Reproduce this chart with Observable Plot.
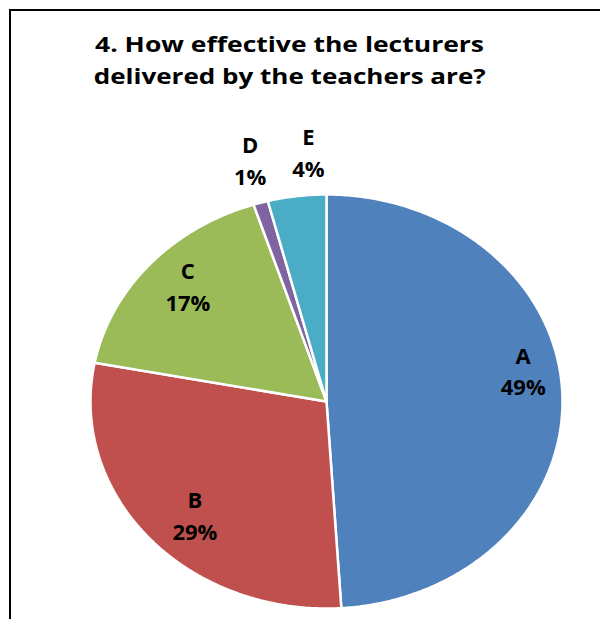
<!DOCTYPE html>
<html>
<head>
<meta charset="utf-8">
<script src="https://cdn.jsdelivr.net/npm/d3@7"></script>
<script src="https://cdn.jsdelivr.net/npm/@observablehq/plot@0.6"></script>
<style>
  html, body { margin: 0; padding: 0; background: #fff; }
  body { width: 600px; height: 619px; overflow: hidden; position: relative; }
  #frame { position: absolute; left: 9px; top: 9px; width: 620px; height: 640px;
           border-left: 2px solid #000; border-top: 2px solid #000; }
  #title { position: absolute; left: 0; top: 0; width: 580px; height: 110px; text-align: center;
           font-family: "Open Sans", Lato, sans-serif; font-weight: bold; font-size: 22px;
           line-height: 32px; padding-top: 27px; box-sizing: border-box; color: #000; white-space: nowrap; }
  #chart { position: absolute; left: 0; top: 110px; }
</style>
</head>
<body>
<div id="frame"></div>
<div id="title"><span id="t1">4. How effective the lecturers</span><br><span id="t2">delivered by the teachers are?</span></div>
<div id="chart"></div>
<script>
const categories = ["A", "B", "C", "D", "E"];
const percents = [49, 29, 17, 1, 4];
const colors = ["#4F81BD", "#C0504D", "#9BBB59", "#8064A2", "#4BACC6"];

// layout only: label nudges in pixels (dx, dy), mimicking Excel's best-fit placement
const labelNudge = {A: [8, -27], B: [10, 3], C: [3, -7], D: [4, 0], E: [18, 0]};

const data = categories.map((c, i) => ({cat: c, value: percents[i]}));
const arcs = d3.pie().sort(null).value(d => d.value)(data);

const cx = 326, cy = 291, rx = 236, ry = 207;

// slice polygons in unit-circle data space (y up)
const pts = [];
arcs.forEach(a => {
  const n = Math.max(4, Math.ceil((a.endAngle - a.startAngle) / 0.01));
  pts.push({cat: a.data.cat, x: 0, y: 0});
  for (let k = 0; k <= n; k++) {
    const t = a.startAngle + (a.endAngle - a.startAngle) * k / n;
    pts.push({cat: a.data.cat, x: Math.sin(t), y: Math.cos(t)});
  }
  pts.push({cat: a.data.cat, x: 0, y: 0});
});

const labels = arcs.map(a => {
  const m = (a.startAngle + a.endAngle) / 2;
  const inside = a.data.value >= 10;
  const r = inside ? 0.8 : 1.22;
  const [ndx, ndy] = labelNudge[a.data.cat];
  return {cat: a.data.cat, text: a.data.cat + "\n" + a.data.value + "%",
          x: Math.sin(m) * r + ndx / rx, y: Math.cos(m) * r - ndy / ry};
});

const plot = Plot.plot({
  width: 600, height: 509,
  margin: 0,
  x: {domain: [-1, 1], range: [cx - rx, cx + rx], axis: null},
  y: {domain: [-1, 1], range: [cy + ry, cy - ry], axis: null},
  color: {domain: categories, range: colors},
  style: {background: "transparent", overflow: "visible"},
  marks: [
    Plot.line(pts, {x: "x", y: "y", z: "cat", fill: "cat", stroke: "white", strokeWidth: 2.5, strokeLinejoin: "miter", curve: "linear"}),
    Plot.text(labels, {x: "x", y: "y", text: "text", fontSize: 22, fontWeight: "bold", fill: "#000", lineHeight: 1.45,
      fontFamily: "'Open Sans', Lato, sans-serif"})
  ]
});
document.getElementById("chart").appendChild(plot);

// fit title line widths to the reference (~390px)
["t1", "t2"].forEach(id => {
  const el = document.getElementById(id);
  const w = el.getBoundingClientRect().width;
  const target = id === "t1" ? 389 : 392;
  el.style.display = "inline-block";
  el.style.transform = `scaleX(${target / w})`;
});
</script>
</body>
</html>
